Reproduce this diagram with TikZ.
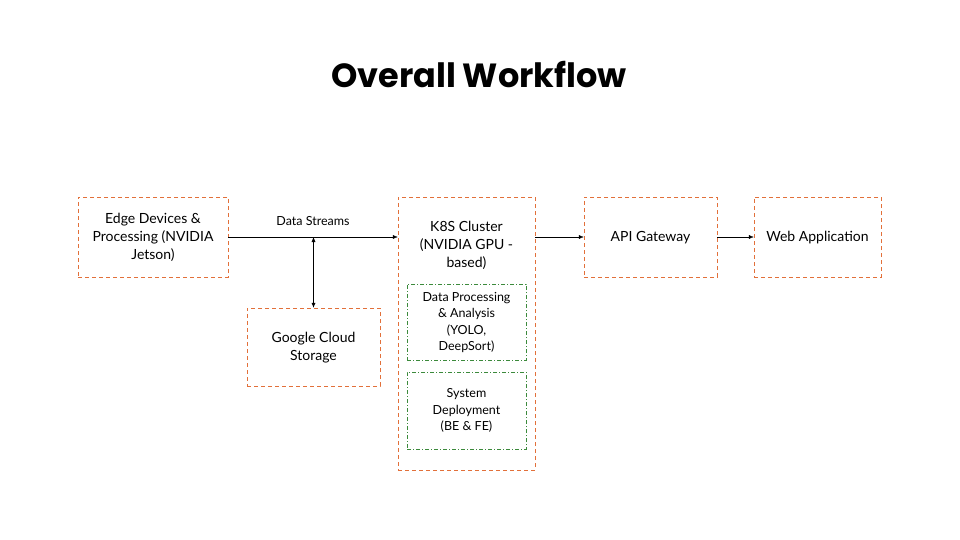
\documentclass[tikz,border=0pt]{standalone}
\usepackage{fontspec}
\setmainfont{Lato}
\newfontfamily\titlefont{Poppins}
\usetikzlibrary{arrows.meta}
\definecolor{boxorange}{HTML}{E2703A}
\definecolor{boxgreen}{HTML}{3C8A3C}

\begin{document}
\begin{tikzpicture}[x=1pt,y=-1pt,
	obox/.style={draw=boxorange,dash pattern=on 4pt off 3pt,thin,align=center,font=\fontsize{14}{18}\selectfont,text depth=1.5pt},
	gbox/.style={draw=boxgreen,dash pattern=on 4pt off 2pt on 1pt off 2pt,thin,align=center,font=\fontsize{12.5}{16.5}\selectfont,minimum width=119pt,inner sep=0pt,text depth=1.5pt},
	flow/.style={thin,-{Latex[length=5pt,width=4pt]}}]
	\useasboundingbox (0,0) rectangle (960,540);
	
	\node[font=\titlefont\bfseries\fontsize{33.5}{38}\selectfont] (title) at (479,75) {Overall Workflow};
	
	\node[obox,minimum width=150pt,minimum height=80pt] (edge) at (153,237) {Edge Devices \&\\Processing (NVIDIA\\Jetson)};
	\node[obox,minimum width=133pt,minimum height=78pt] (gcs) at (313.5,347) {Google Cloud\\Storage};
	\node[obox,minimum width=137pt,minimum height=273pt] (k8s) at (466.5,333.5) {};
	\node[align=center,font=\fontsize{14}{18}\selectfont] (k8stext) at (466.5,245.5) {K8S Cluster\\(NVIDIA GPU -\\based)};
	\node[gbox,minimum height=76pt] (dpa) at (466.5,322) {Data Processing\\\& Analysis\\(YOLO,\\DeepSort)};
	\node[gbox,minimum height=77pt] (deploy) at (466.5,410.5) {System\\Deployment\\(BE \& FE)};
	\node[obox,minimum width=133pt,minimum height=80pt] (api) at (650.5,237) {API Gateway};
	\node[obox,minimum width=127pt,minimum height=80pt] (web) at (817.5,237) {Web Application};
	
	\coordinate (split) at (gcs.north |- edge.east);
	\draw[flow] (edge.east) -- node[above=8pt,font=\fontsize{12.5}{15}\selectfont] (ds) {Data Streams} (k8s.west |- edge.east);
	\draw[thin,{Latex[length=5pt,width=4pt]}-{Latex[length=5pt,width=4pt]}] (split) -- (gcs.north);
	\draw[flow] (k8s.east |- edge.east) -- (api.west);
	\draw[flow] (api.east) -- (web.west);
\end{tikzpicture}
\end{document}
